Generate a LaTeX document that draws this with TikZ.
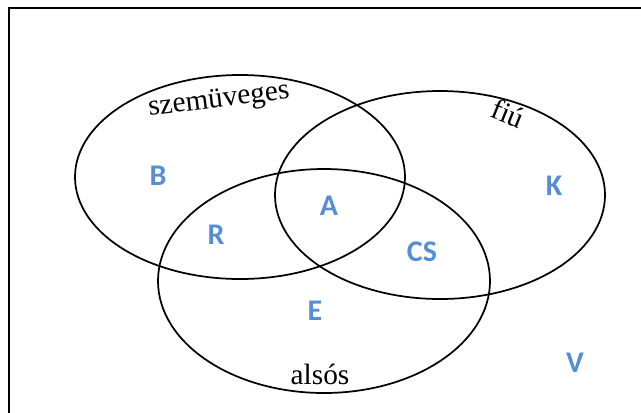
\documentclass[tikz,border=0pt]{standalone}
\usepackage{fontspec}
\setmainfont{Liberation Serif}
\newfontfamily\elemfont{Carlito}
\definecolor{elemblue}{RGB}{85,142,213}

\begin{document}
\begin{tikzpicture}[x=0.75pt,y=-0.75pt,
  set line/.style={line width=1.3pt},
  set name/.style={font=\fontsize{22}{22}\selectfont, inner sep=0pt},
  elem/.style={font=\elemfont\bfseries\fontsize{22.5}{22.5}\selectfont, text=elemblue, inner sep=0pt}]
  \useasboundingbox (0,0) rectangle (641,412);
  \draw[line width=1.8pt] (9,8) rectangle (670,440);

  % the three sets
  \coordinate (glasses) at (240,177);
  \coordinate (boys) at (440,195);
  \coordinate (lower) at (324,281);
  \draw[set line] (glasses) ellipse [x radius=165, y radius=102];
  \draw[set line] (boys) ellipse [x radius=165, y radius=104];
  \draw[set line] (lower) ellipse [x radius=166, y radius=112];

  \node[set name, rotate=7] (glassesname) at (219,101) {szemüveges};
  \node[set name, rotate=-22] (boysname) at (508,113) {fiú};
  \node[set name] (lowername) at (320,374) {alsós};

  % the children
  \node[elem] (B) at (158,176) {B};
  \node[elem] (R) at (216,235) {R};
  \node[elem] (A) at (329,206) {A};
  \node[elem] (CS) at (422,252) {CS};
  \node[elem] (K) at (554,186) {K};
  \node[elem] (E) at (315,311) {E};
  \node[elem] (V) at (575,363) {V};
\end{tikzpicture}
\end{document}
